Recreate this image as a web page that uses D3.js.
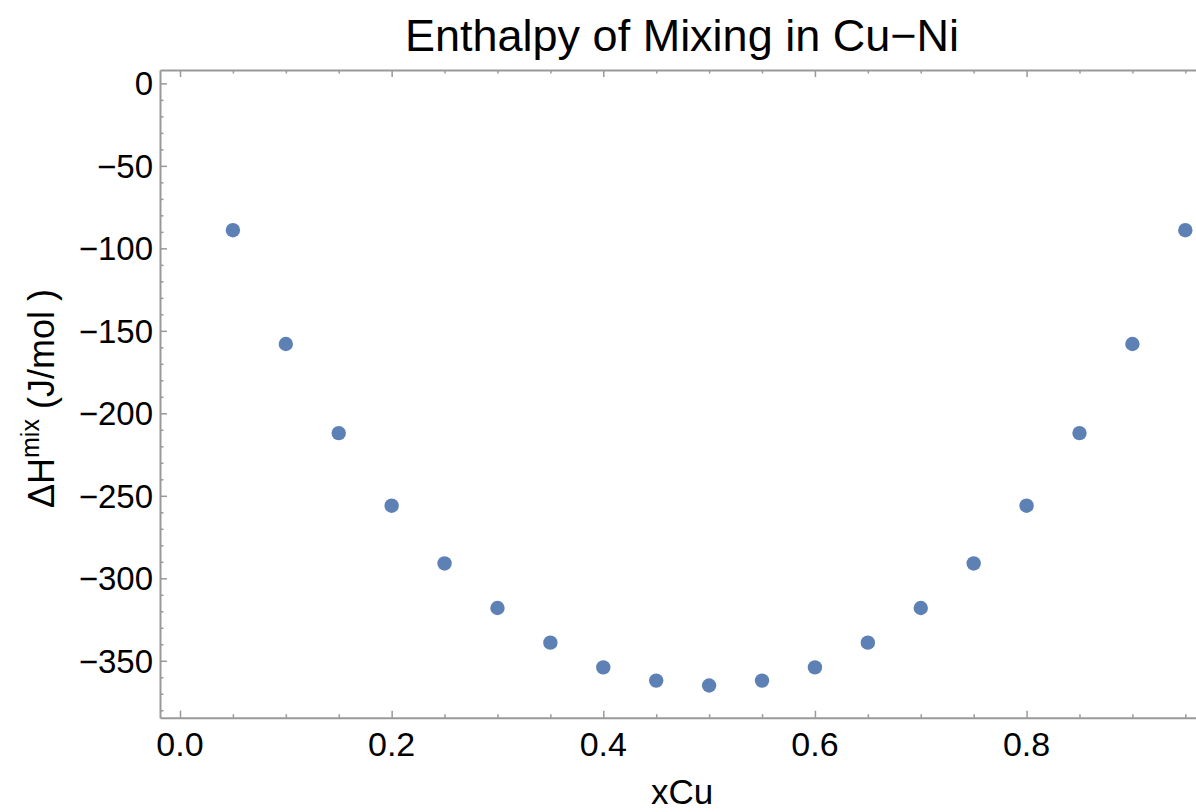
<!DOCTYPE html>
<html><head><meta charset="utf-8">
<script src="https://cdn.jsdelivr.net/npm/d3@7"></script>
<style>
body{margin:0;background:#fff;}
svg{display:block;}
text{font-family:"Liberation Sans",Arial,sans-serif;fill:#000;}
</style></head>
<body><svg id="c" width="1196" height="812"></svg>
<script>
const xCu = [0.05,0.10,0.15,0.20,0.25,0.30,0.35,0.40,0.45,0.50,0.55,0.60,0.65,0.70,0.75,0.80,0.85,0.90,0.95];
const dHmix = [-89,-158,-212,-256,-291,-318,-339,-354,-362,-365,-362,-354,-339,-318,-291,-256,-212,-158,-89];
const xMajor = [0,0.2,0.4,0.6,0.8];
const xMinor = [0.05,0.1,0.15,0.25,0.3,0.35,0.45,0.5,0.55,0.65,0.7,0.75,0.85,0.9,0.95];
const yMajor = [0,-50,-100,-150,-200,-250,-300,-350];
const yMinor = [-10,-20,-30,-40,-60,-70,-80,-90,-110,-120,-130,-140,-160,-170,-180,-190,-210,-220,-230,-240,-260,-270,-280,-290,-310,-320,-330,-340,-360,-370,-380];
const title = "Enthalpy of Mixing in Cu\u2212Ni";

const svg = d3.select("#c");
const L=160, R=1205, T=70, B=717.7;
const x = d3.scaleLinear().domain([-0.0189,0.9686]).range([L,R]);
const y = d3.scaleLinear().domain([8.1,-384.5]).range([T,B]);
const axisColor="#999999";

function styleAxis(g){
  g.selectAll("path,line").attr("stroke",axisColor).attr("stroke-width",1.5);
  g.select(".domain").attr("stroke-width",2);
}
const fmtY = d => d===0 ? "0" : "\u2212"+Math.abs(d);
// bottom
svg.append("g").attr("transform",`translate(0,${B})`)
  .call(d3.axisTop(x).tickValues(xMajor).tickSize(7).tickSizeOuter(0).tickFormat(""))
  .call(styleAxis);
svg.append("g").attr("transform",`translate(0,${B})`)
  .call(d3.axisTop(x).tickValues(xMinor).tickSize(3.5).tickSizeOuter(0).tickFormat(""))
  .call(g=>g.select(".domain").remove()).call(styleAxis);
// x labels
svg.append("g").selectAll("text").data(xMajor).join("text")
  .attr("x",d=>x(d)).attr("y",756).attr("text-anchor","middle")
  .attr("font-size",34).text(d=>d3.format(".1f")(d));
// top
svg.append("g").attr("transform",`translate(0,${T})`)
  .call(d3.axisBottom(x).tickValues(xMajor).tickSize(7).tickSizeOuter(0).tickFormat(""))
  .call(styleAxis);
svg.append("g").attr("transform",`translate(0,${T})`)
  .call(d3.axisBottom(x).tickValues(xMinor).tickSize(3.5).tickSizeOuter(0).tickFormat(""))
  .call(g=>g.select(".domain").remove()).call(styleAxis);
// left
svg.append("g").attr("transform",`translate(${L},0)`)
  .call(d3.axisRight(y).tickValues(yMajor).tickSize(7).tickSizeOuter(0).tickFormat(""))
  .call(styleAxis);
svg.append("g").attr("transform",`translate(${L},0)`)
  .call(d3.axisRight(y).tickValues(yMinor).tickSize(3.5).tickSizeOuter(0).tickFormat(""))
  .call(g=>g.select(".domain").remove()).call(styleAxis);
svg.append("g").selectAll("text").data(yMajor).join("text")
  .attr("x",153).attr("y",d=>y(d)).attr("dy","0.36em").attr("text-anchor","end")
  .attr("font-size",33).text(fmtY);
// right
svg.append("g").attr("transform",`translate(${R},0)`)
  .call(d3.axisLeft(y).tickValues(yMajor).tickSize(7).tickSizeOuter(0).tickFormat(""))
  .call(styleAxis);

// points
svg.append("g").selectAll("circle").data(xCu).join("circle")
  .attr("cx",(d)=>x(d)).attr("cy",(d,i)=>y(dHmix[i])).attr("r",7.2)
  .attr("fill","#5e81b5");

// title
svg.append("text").attr("x",682).attr("y",51).attr("text-anchor","middle")
  .attr("font-size",45).text(title);
// x label
svg.append("text").attr("x",682).attr("y",804).attr("text-anchor","middle")
  .attr("font-size",35).text("xCu");
// y label
const yl = svg.append("text").attr("transform","translate(54,508) rotate(-90)")
  .attr("text-anchor","start").attr("font-size",36);
yl.append("tspan").text("\u0394H");
yl.append("tspan").attr("font-size",25).attr("dy",-15).text("mix");
yl.append("tspan").attr("dy",15).text(" (J/mol )");
</script></body></html>
